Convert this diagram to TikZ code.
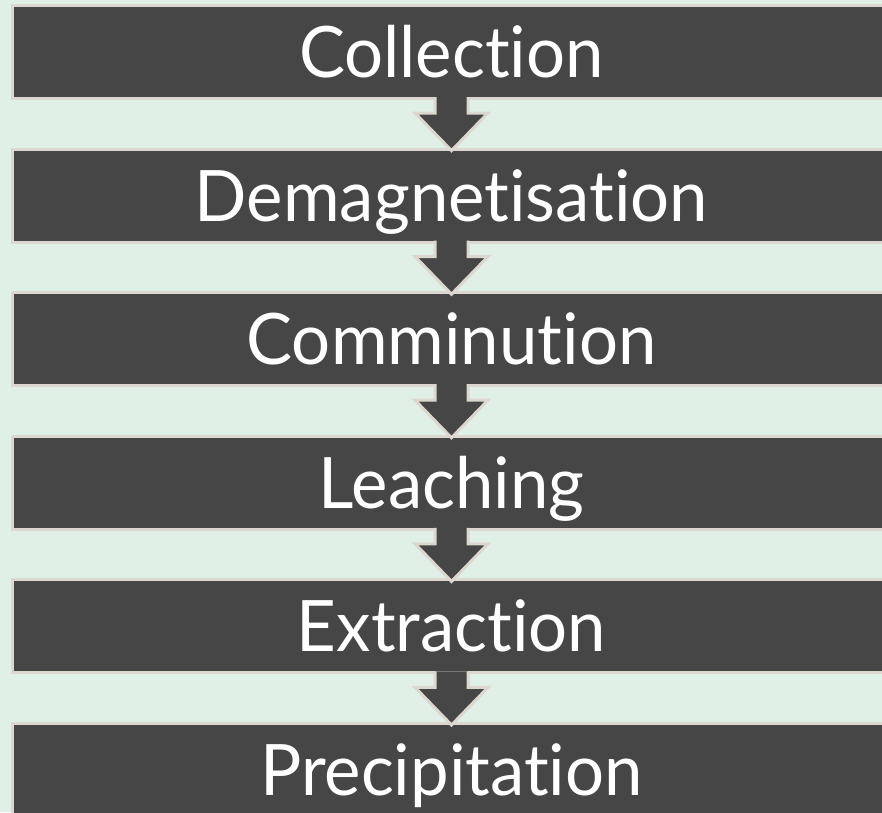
\documentclass[tikz,border=0pt]{standalone}
\usepackage{fontspec}
\setmainfont{Lato}[FakeStretch = 0.97, Ligatures = NoCommon]
\usetikzlibrary{calc}

\definecolor{pagebg}{HTML}{E1F0E6}
\definecolor{boxfill}{HTML}{464646}
\definecolor{boxrim}{HTML}{DCD8D0}

\tikzset{
	stage/.style = {draw = boxrim, line width = 3pt, fill = boxfill, minimum width = 878pt, minimum height = 93pt, inner sep = 0pt, text = white, text height = 51pt, text depth = 0pt, font = \fontsize{71}{71}\selectfont},
	flow/.style = {draw = boxrim, line width = 3pt, fill = boxfill, line join = miter}
}

% arrow from the bottom of one stage to the top of the next
\newcommand{\flowarrow}[2]{%
	\filldraw[flow] ($(#1.south) + (-16.5, -3)$) -- ($(#1.south) + (-16.5, 13)$) -- ($(#1.south) + (-36.5, 13)$)
		-- ($(#2.north) + (0, 3)$)
		-- ($(#1.south) + (36.5, 13)$) -- ($(#1.south) + (16.5, 13)$) -- ($(#1.south) + (16.5, -3)$);
}

\begin{document}
\begin{tikzpicture}[x = 1pt, y = -1pt]
		\useasboundingbox (0, 0) rectangle (882, 812);
		\clip (0, 0) rectangle (882, 812);
		\fill[pagebg] (0, 0) rectangle (882, 812);
		% Stages
		\node[stage] (collect) at (451.5, 52) {Collection};
		\node[stage] (demag) at (451.5, 195.6) {Demagnetisation};
		\node[stage] (commin) at (451.5, 339.2) {Comminution};
		\node[stage] (leach) at (451.5, 482.8) {Leaching};
		\node[stage] (extract) at (451.5, 626.4) {Extraction};
		\node[stage] (precip) at (451.5, 770) {Precipitation};
		% Arrows
		\flowarrow{collect}{demag}
		\flowarrow{demag}{commin}
		\flowarrow{commin}{leach}
		\flowarrow{leach}{extract}
		\flowarrow{extract}{precip}
	\end{tikzpicture}
\end{document}
